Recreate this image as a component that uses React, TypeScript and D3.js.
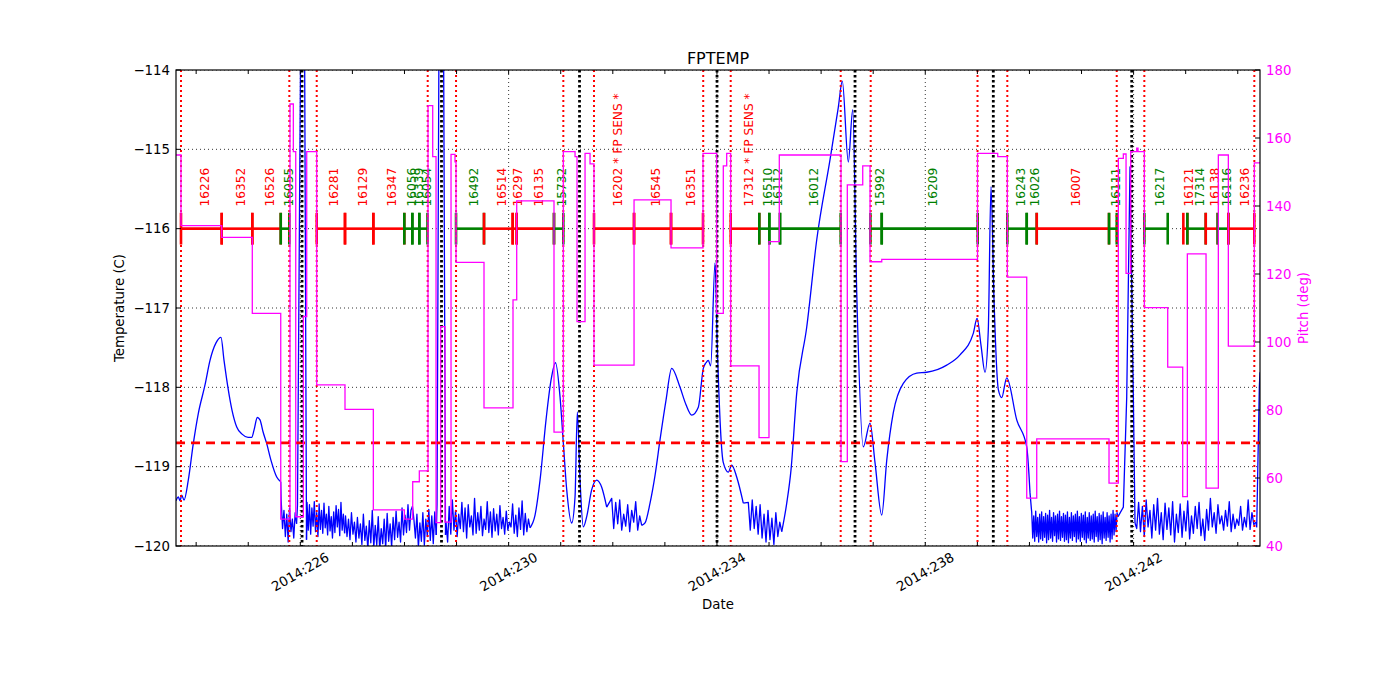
import React, { useEffect, useRef } from "react";
import * as d3 from "d3";

// ---- axes ----
const dayDomain = [223.613, 244.427];
const majorDays = [226, 230, 234, 238, 242];
const minorDays = d3.range(224, 245);
const tempTicks = [-114, -115, -116, -117, -118, -119, -120];
const pitchTicks = [40, 60, 80, 100, 120, 140, 160, 180];

const tempLimit = -118.7;
const barLevel = -116;

// ---- event markers (day of 2014) ----
const radZoneLines = [
  223.709, 225.789, 226.315, 228.446, 228.99, 231.05, 231.639, 233.736,
  234.264, 236.376, 236.952, 239.003, 239.575, 241.676, 242.206, 244.318,
];
const perigeeLines = [226.033, 228.711, 231.361, 234.001, 236.651, 239.306, 241.964];

// ---- observations ----
const obsIds = [
  "16226", "16352", "16526", "16055", "16281", "16129", "16347", "16056", "16339", "16054",
  "16492", "16514", "16297", "16135", "15732", "16202 * FP SENS *", "16545", "16351",
  "17312 * FP SENS *", "16510", "16112", "16012", "15992", "16209", "16243", "16026",
  "16007", "16111", "16217", "16121", "17314", "16138", "16116", "16236",
];
const obsStart = [
  223.709, 224.491, 225.078, 225.624, 226.315, 226.858, 227.402, 227.997, 228.151, 228.285,
  228.99, 229.527, 230.078, 230.155, 230.871, 231.639, 232.408, 233.118,
  234.264, 234.813, 235.005, 235.211, 236.946, 237.164, 239.575, 239.948,
  240.14, 241.528, 242.206, 242.955, 243.032, 243.385, 243.615, 243.819,
];
const obsStop = [
  224.491, 225.078, 225.624, 225.789, 226.858, 227.402, 227.997, 228.151, 228.285, 228.442,
  229.527, 230.078, 230.155, 230.871, 231.05, 232.408, 233.118, 233.732,
  234.813, 235.005, 235.211, 236.376, 237.164, 239.007, 239.948, 240.14,
  241.528, 241.676, 242.655, 243.032, 243.385, 243.615, 243.819, 244.318,
];
const obsKind = [
  "r", "r", "r", "g", "r", "r", "r", "g", "g", "g",
  "g", "r", "r", "r", "g", "r", "r", "r",
  "r", "g", "g", "g", "g", "g", "g", "g",
  "r", "g", "g", "r", "g", "r", "g", "r",
];

// ---- pitch (deg), step after ----
const pitchDays = [
  223.613, 223.709, 224.491, 225.078, 225.624, 225.802, 225.866, 225.912, 226.058, 226.123,
  226.315, 226.858, 227.402, 227.997, 228.158, 228.285, 228.452, 228.542, 228.606, 228.696,
  228.778, 228.894, 228.97, 228.99, 229.527, 230.084, 230.155, 230.871, 231.05, 231.275,
  231.313, 231.467, 231.563, 231.639, 232.408, 233.118, 233.732, 233.995, 234.122, 234.187,
  234.264, 234.808, 234.999, 235.197, 236.382, 236.503, 236.799, 236.939, 237.164, 239.003,
  239.391, 239.575, 239.948, 240.14, 241.528, 241.707, 241.803, 241.855, 241.945, 242.06,
  242.085, 242.206, 242.655, 242.943, 243.032, 243.391, 243.627, 243.819, 244.318, 244.427,
];
const pitchValues = [
  155, 134.2, 130.8, 108.4, 47.9, 170, 156, 48.6, 107.5, 156,
  87.4, 80.2, 50.6, 47.9, 58.9, 62.1, 169.5, 154.5, 46.9, 104.5,
  47.0, 155.2, 153.0, 123.4, 80.6, 112.4, 141.5, 73.5, 156, 154.5,
  106, 155.5, 152.4, 93.2, 141.8, 127.7, 155.5, 108.4, 151.8, 155.5,
  93.0, 71.9, 129.5, 155, 64.8, 146.2, 151.8, 123.6, 124.3, 155.5,
  154.5, 119.1, 54.1, 71.5, 58.5, 154, 155.3, 120.2, 156, 157,
  156, 110.1, 92.6, 54.5, 125.9, 57.0, 155, 98.8, 152.7, 152.7,
];

// ---- FPTEMP (C): smooth stretches as [day, temp] ----
const tempA: [number, number][] = [
  [223.613, -119.43], [223.657, -119.38], [223.69, -119.43], [223.723, -119.36], [223.767, -119.42],
  [223.849, -119.17], [223.945, -118.71], [224.041, -118.33], [224.17, -117.97], [224.266, -117.66],
  [224.381, -117.44], [224.477, -117.37], [224.535, -117.66], [224.612, -118.01], [224.689, -118.29],
  [224.779, -118.5], [224.881, -118.59], [224.996, -118.63], [225.067, -118.63], [225.111, -118.54],
  [225.174, -118.38], [225.226, -118.41], [225.284, -118.56], [225.355, -118.71], [225.437, -118.92],
  [225.547, -119.13], [225.624, -119.19],
];
const spike1: [number, number][] = [
  [225.946, -119.48], [226.008, -113.5], [226.081, -113.5], [226.119, -119.92],
];
const spike2: [number, number][] = [
  [228.625, -119.48], [228.663, -113.5], [228.75, -113.5], [228.788, -119.86],
];
const tempD: [number, number][] = [
  [230.507, -119.61], [230.603, -119.17], [230.718, -118.41], [230.814, -117.91], [230.9, -117.69],
  [230.987, -118.12], [231.05, -118.7], [231.115, -119.29], [231.211, -119.71], [231.275, -119.38],
  [231.319, -118.31], [231.371, -119.17], [231.434, -119.76], [231.499, -119.63], [231.595, -119.29],
  [231.691, -119.17], [231.787, -119.26], [231.883, -119.51],
];
const tempE: [number, number][] = [
  [232.619, -119.71], [232.715, -119.46], [232.811, -119.11], [232.907, -118.66], [233.022, -118.16],
  [233.131, -117.76], [233.291, -118.0], [233.406, -118.22], [233.515, -118.35], [233.642, -118.25],
  [233.738, -117.76], [233.79, -117.69], [233.834, -117.66], [233.88, -117.73], [233.963, -116.43],
  [234.007, -117.49], [234.122, -118.95], [234.218, -119.07], [234.283, -118.98], [234.379, -119.13],
  [234.506, -119.46],
];
const tempF: [number, number][] = [
  [235.34, -119.46], [235.422, -119.04], [235.532, -118.07], [235.724, -117.24], [235.916, -116.14],
  [236.171, -115.13], [236.33, -114.47], [236.407, -114.14], [236.522, -115.16], [236.607, -114.5],
  [236.684, -116.81], [236.81, -118.75], [236.939, -118.45], [237.035, -118.95], [237.164, -119.61],
  [237.26, -118.92], [237.386, -118.32], [237.578, -117.95], [237.836, -117.82], [238.028, -117.81],
  [238.412, -117.72], [238.667, -117.59], [238.922, -117.32], [238.994, -117.13], [239.07, -117.47],
  [239.147, -117.81], [239.21, -117.28], [239.262, -115.47], [239.32, -116.9], [239.403, -118.03],
  [239.468, -118.13], [239.564, -117.88], [239.756, -118.41], [239.948, -118.75], [240.011, -119.33],
];
const tempG: [number, number][] = [
  [241.803, -119.51], [241.868, -118.12], [241.931, -115.22], [241.995, -118.12], [242.027, -119.71],
];
const tempH: [number, number][] = [
  [244.364, -119.76], [244.414, -118.0], [244.427, -117.81],
];

// ---- FPTEMP (C): noisy stretches, evenly sampled between the span days ----
const noise1Span = [225.632, 225.928];
const noise1 = [-119.42, -119.78, -119.55, -119.88, -119.6, -119.95, -119.52, -119.82, -119.66, -119.9, -119.58, -119.72];
const noise2Span = [226.129, 226.85];
const noise2 = [
  -119.45, -119.8, -119.48, -119.85, -119.52, -119.75, -119.44, -119.82, -119.58, -119.88, -119.47, -119.79,
  -119.55, -119.84, -119.46, -119.77, -119.6, -119.86, -119.5, -119.81, -119.63, -119.9, -119.57, -119.83,
  -119.49, -119.76, -119.54, -119.87, -119.45, -119.8, -119.6, -119.84,
];
const noise3Span = [226.868, 228.61];
const noise3 = [
  -119.62, -119.88, -119.66, -119.92, -119.58, -119.85, -119.7, -119.95, -119.64, -119.9, -119.72, -119.98,
  -119.6, -119.93, -119.75, -120.04, -119.68, -119.96, -119.55, -120.02, -119.74, -119.99, -119.63, -120.05,
  -119.78, -119.97, -119.66, -120.03, -119.59, -119.94, -119.72, -120.01, -119.64, -119.92, -119.56, -119.89,
  -119.7, -119.95, -119.52, -119.86, -119.61, -119.83, -119.48, -119.8, -119.55, -119.5,
  -119.67, -119.9, -119.6, -120.02, -119.71, -119.94, -119.58, -119.99, -119.66, -119.88, -119.54, -119.93,
  -119.62, -119.97, -119.57, -119.86,
];
const noise4Span = [228.798, 230.411];
const noise4 = [
  -119.7, -119.95, -119.5, -119.85, -119.42, -119.8, -119.55, -119.88, -119.6, -119.78, -119.45, -119.82,
  -119.52, -119.9, -119.48, -119.76, -119.62, -119.86, -119.4, -119.84, -119.58, -119.8, -119.5, -119.87,
  -119.66, -119.79, -119.44, -119.83, -119.57, -119.89, -119.53, -119.81, -119.6, -119.86, -119.49, -119.78,
  -119.64, -119.85, -119.56, -119.8, -119.7, -119.76, -119.47, -119.84, -119.61, -119.88, -119.52, -119.79,
  -119.43, -119.86, -119.59, -119.82, -119.66, -119.77,
];
const noise5Span = [231.979, 232.555];
const noise5 = [
  -119.4, -119.78, -119.45, -119.72, -119.42, -119.8, -119.6, -119.75, -119.48, -119.82, -119.55, -119.7,
  -119.44, -119.8, -119.62, -119.74,
];
const noise6Span = [234.602, 235.244];
const noise6 = [
  -119.45, -119.8, -119.42, -119.78, -119.5, -119.85, -119.48, -119.9, -119.6, -119.95, -119.55, -119.92,
  -119.65, -119.98, -119.58, -119.88, -119.7, -119.82,
];
const noise7Span = [240.044, 241.701];
const noise7 = [
  -119.58, -119.9, -119.62, -119.94, -119.56, -119.88, -119.64, -119.95, -119.6, -119.91, -119.57, -119.93,
  -119.63, -119.89, -119.59, -119.96, -119.61, -119.92, -119.55, -119.9, -119.64, -119.94, -119.58, -119.87,
  -119.62, -119.95, -119.6, -119.91, -119.56, -119.93, -119.63, -119.89, -119.59, -119.94, -119.61, -119.92,
  -119.57, -119.96, -119.64, -119.9, -119.58, -119.93, -119.62, -119.88, -119.6, -119.95, -119.56, -119.91,
  -119.63, -119.94, -119.59, -119.89, -119.61, -119.92, -119.57, -119.96, -119.64, -119.9, -119.58, -119.93,
  -119.62, -119.91, -119.6, -119.95, -119.56, -119.88, -119.63, -119.94, -119.59, -119.92, -119.61, -119.97,
  -119.57, -119.9, -119.64, -119.93, -119.58, -119.89, -119.62, -119.95, -119.6, -119.91, -119.55, -119.86,
  -119.6, -119.82, -119.58, -119.63,
];
const noise8Span = [242.06, 244.345];
const noise8 = [
  -119.78, -119.45, -119.82, -119.5, -119.88, -119.42, -119.76, -119.55, -119.9, -119.48, -119.8, -119.4,
  -119.85, -119.58, -119.92, -119.46, -119.79, -119.52, -119.86, -119.44, -119.95, -119.6, -119.83, -119.47,
  -119.89, -119.56, -119.81, -119.43, -119.91, -119.62, -119.84, -119.5, -119.78, -119.45, -119.87, -119.66,
  -119.93, -119.54, -119.8, -119.4, -119.76, -119.58, -119.84, -119.48, -119.72, -119.62, -119.8, -119.55,
  -119.75, -119.44, -119.82, -119.6, -119.78, -119.66, -119.74, -119.5, -119.8, -119.64, -119.76, -119.42,
  -119.79, -119.58, -119.73, -119.7,
];

const sampled = (span: number[], vals: number[]): [number, number][] =>
  vals.map((v, i) => [span[0] + ((span[1] - span[0]) * i) / (vals.length - 1), v]);

const RED = "#ff0000";
const GREEN = "#008000";
const BLUE = "#0000ff";
const MAGENTA = "#ff00ff";
const FONT = "DejaVu Sans, sans-serif";

export default function App() {
  const svgRef = useRef<SVGSVGElement>(null);

  useEffect(() => {
    if (!svgRef.current) return;
    const svg = d3.select(svgRef.current);
    svg.selectAll("*").remove();

    const left = 176, right = 1260, top = 70, bottom = 546;
    const x = d3.scaleLinear().domain(dayDomain).range([left, right]);
    const yT = d3.scaleLinear().domain([-120, -114]).range([bottom, top]);
    const yP = d3.scaleLinear().domain([40, 180]).range([bottom, top]);

    svg.append("rect").attr("width", 1400).attr("height", 700).attr("fill", "#fff");

    svg.append("defs").append("clipPath").attr("id", "plotclip")
      .append("rect").attr("x", left).attr("y", top)
      .attr("width", right - left).attr("height", bottom - top);

    const plot = svg.append("g").attr("clip-path", "url(#plotclip)");

    // grid
    plot.selectAll(".hgrid").data(tempTicks).enter().append("line")
      .attr("x1", left).attr("x2", right)
      .attr("y1", (d) => yT(d)).attr("y2", (d) => yT(d))
      .attr("stroke", "#000").attr("stroke-width", 0.8).attr("stroke-dasharray", "1,3");
    plot.selectAll(".vgrid").data(majorDays).enter().append("line")
      .attr("x1", (d) => x(d)).attr("x2", (d) => x(d))
      .attr("y1", top).attr("y2", bottom)
      .attr("stroke", "#000").attr("stroke-width", 0.8).attr("stroke-dasharray", "1,3");

    // temperature: smooth stretches drawn with a monotone curve, noisy ones straight
    const pieces: { pts: [number, number][]; smooth: boolean }[] = [
      { pts: tempA, smooth: true },
      { pts: sampled(noise1Span, noise1), smooth: false },
      { pts: spike1, smooth: false },
      { pts: sampled(noise2Span, noise2), smooth: false },
      { pts: sampled(noise3Span, noise3), smooth: false },
      { pts: spike2, smooth: false },
      { pts: sampled(noise4Span, noise4), smooth: false },
      { pts: tempD, smooth: true },
      { pts: sampled(noise5Span, noise5), smooth: false },
      { pts: tempE, smooth: true },
      { pts: sampled(noise6Span, noise6), smooth: false },
      { pts: tempF, smooth: true },
      { pts: sampled(noise7Span, noise7), smooth: false },
      { pts: tempG, smooth: false },
      { pts: sampled(noise8Span, noise8), smooth: false },
      { pts: tempH, smooth: false },
    ];
    const smoothLine = d3.line<[number, number]>()
      .x((d) => x(d[0])).y((d) => yT(d[1]))
      .curve(d3.curveMonotoneX);
    const rawLine = d3.line<[number, number]>()
      .x((d) => x(d[0])).y((d) => yT(d[1]));
    const tg = plot.append("g");
    pieces.forEach((p, i) => {
      const prev = i > 0 ? pieces[i - 1].pts : [];
      const pts = prev.length ? [prev[prev.length - 1], ...p.pts] : p.pts;
      tg.append("path").datum(pts)
        .attr("d", p.smooth ? smoothLine : rawLine)
        .attr("fill", "none")
        .attr("stroke", BLUE).attr("stroke-width", 1.3)
        .attr("stroke-linejoin", "round");
    });

    // planning limit
    plot.append("line")
      .attr("x1", left).attr("x2", right)
      .attr("y1", yT(tempLimit)).attr("y2", yT(tempLimit))
      .attr("stroke", RED).attr("stroke-width", 2.6).attr("stroke-dasharray", "9,6");

    // observation bars
    const obs = obsIds.map((id, i) => ({
      id, start: obsStart[i], stop: obsStop[i],
      color: obsKind[i] === "r" ? RED : GREEN,
    }));
    const og = plot.append("g");
    obs.forEach((o) => {
      og.append("line")
        .attr("x1", x(o.start)).attr("x2", x(o.stop))
        .attr("y1", yT(barLevel)).attr("y2", yT(barLevel))
        .attr("stroke", o.color).attr("stroke-width", 2.6);
      [o.start, o.stop].forEach((t) => {
        og.append("line")
          .attr("x1", x(t)).attr("x2", x(t))
          .attr("y1", yT(barLevel + 0.2)).attr("y2", yT(barLevel - 0.2))
          .attr("stroke", o.color).attr("stroke-width", 2.6);
      });
      const cx = x((o.start + o.stop) / 2) + 3.5;
      const cy = yT(-115.72);
      og.append("text")
        .attr("transform", `translate(${cx},${cy}) rotate(-90)`)
        .attr("text-anchor", "start")
        .attr("dominant-baseline", "central")
        .style("font-family", FONT)
        .style("font-size", "12.2px")
        .attr("fill", o.color)
        .text(o.id);
    });

    // event lines
    plot.selectAll(".rz").data(radZoneLines).enter().append("line")
      .attr("x1", (d) => x(d)).attr("x2", (d) => x(d))
      .attr("y1", top).attr("y2", bottom)
      .attr("stroke", RED).attr("stroke-width", 2).attr("stroke-dasharray", "2,3");
    plot.selectAll(".pg").data(perigeeLines).enter().append("line")
      .attr("x1", (d) => x(d)).attr("x2", (d) => x(d))
      .attr("y1", top).attr("y2", bottom)
      .attr("stroke", "#000").attr("stroke-width", 2.8).attr("stroke-dasharray", "2.5,2.5");

    // pitch
    const pitchSeries: [number, number][] = pitchDays.map((d, i) => [d, pitchValues[i]]);
    const pitchLine = d3.line<[number, number]>()
      .x((d) => x(d[0])).y((d) => yP(d[1]))
      .curve(d3.curveStepAfter);
    plot.append("path").datum(pitchSeries)
      .attr("d", pitchLine).attr("fill", "none")
      .attr("stroke", MAGENTA).attr("stroke-width", 1.3);

    // frame
    svg.append("rect")
      .attr("x", left).attr("y", top)
      .attr("width", right - left).attr("height", bottom - top)
      .attr("fill", "none").attr("stroke", "#000").attr("stroke-width", 1.2);

    // x ticks
    const ax = svg.append("g");
    minorDays.forEach((d) => {
      ax.append("line").attr("x1", x(d)).attr("x2", x(d))
        .attr("y1", bottom).attr("y2", bottom - 4).attr("stroke", "#000");
      ax.append("line").attr("x1", x(d)).attr("x2", x(d))
        .attr("y1", top).attr("y2", top + 4).attr("stroke", "#000");
    });
    majorDays.forEach((d) => {
      ax.append("text")
        .attr("transform", `translate(${x(d)},${572}) rotate(-30)`)
        .attr("text-anchor", "middle")
        .attr("dominant-baseline", "central")
        .style("font-family", FONT).style("font-size", "13.3px")
        .text(`2014:${d}`);
    });

    // left axis
    tempTicks.forEach((t) => {
      ax.append("line").attr("x1", left).attr("x2", left + 5)
        .attr("y1", yT(t)).attr("y2", yT(t)).attr("stroke", "#000");
      ax.append("text")
        .attr("x", left - 6).attr("y", yT(t))
        .attr("text-anchor", "end").attr("dominant-baseline", "central")
        .style("font-family", FONT).style("font-size", "13.3px")
        .text(`\u2212${Math.abs(t)}`);
    });

    // right axis
    pitchTicks.forEach((p) => {
      ax.append("line").attr("x1", right).attr("x2", right - 5)
        .attr("y1", yP(p)).attr("y2", yP(p)).attr("stroke", "#000");
      ax.append("text")
        .attr("x", right + 6).attr("y", yP(p))
        .attr("text-anchor", "start").attr("dominant-baseline", "central")
        .style("font-family", FONT).style("font-size", "13.3px")
        .attr("fill", MAGENTA)
        .text(String(p));
    });

    // labels
    svg.append("text")
      .attr("x", (left + right) / 2).attr("y", 64)
      .attr("text-anchor", "middle")
      .style("font-family", FONT).style("font-size", "16px")
      .text("FPTEMP");
    svg.append("text")
      .attr("x", (left + right) / 2).attr("y", 609)
      .attr("text-anchor", "middle")
      .style("font-family", FONT).style("font-size", "13.3px")
      .text("Date");
    svg.append("text")
      .attr("transform", `translate(${124},${(top + bottom) / 2}) rotate(-90)`)
      .attr("text-anchor", "middle")
      .style("font-family", FONT).style("font-size", "13.3px")
      .text("Temperature (C)");
    svg.append("text")
      .attr("transform", `translate(${1308},${(top + bottom) / 2}) rotate(-90)`)
      .attr("text-anchor", "middle")
      .style("font-family", FONT).style("font-size", "13.3px")
      .attr("fill", MAGENTA)
      .text("Pitch (deg)");
  }, []);

  return (
    <svg
      ref={svgRef}
      width={1400}
      height={700}
      style={{ position: "absolute", left: 0, top: 0 }}
    />
  );
}
